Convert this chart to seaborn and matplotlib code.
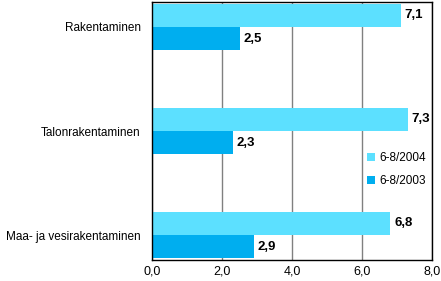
import matplotlib
matplotlib.use("Agg")
import matplotlib.pyplot as plt
import seaborn as sns
import pandas as pd

categories = ["Rakentaminen", "Talonrakentaminen", "Maa- ja vesirakentaminen"]
series_names = ["6-8/2004", "6-8/2003"]
values_2004 = [7.1, 7.3, 6.8]
values_2003 = [2.5, 2.3, 2.9]
x_ticks = [0, 2, 4, 6, 8]
x_tick_labels = ["0,0", "2,0", "4,0", "6,0", "8,0"]

df = pd.DataFrame({
    "cat": categories * 2,
    "series": [series_names[0]] * 3 + [series_names[1]] * 3,
    "value": values_2004 + values_2003,
})

sns.set_theme(style="white")
plt.rcParams["font.family"] = ["Liberation Sans", "DejaVu Sans"]
plt.rcParams["text.color"] = "black"
plt.rcParams["xtick.color"] = "black"
plt.rcParams["ytick.color"] = "black"

fig = plt.figure(figsize=(4.41, 2.81), dpi=100)
ax = fig.add_axes([152 / 441, 1 - 260 / 281, 280 / 441, 258 / 281])

palette = {"6-8/2004": "#5ce0ff", "6-8/2003": "#00aeef"}
sns.barplot(data=df, y="cat", x="value", hue="series", hue_order=series_names,
            order=categories, palette=palette, width=0.45, orient="h",
            saturation=1, ax=ax, legend=True, errorbar=None, linewidth=0)

for cont in ax.containers:
    labels = [f"{v:.1f}".replace(".", ",") for v in cont.datavalues]
    ax.bar_label(cont, labels=labels, padding=3, fontsize=9.5, fontweight="bold",
                 color="black")

ax.set_xlim(0, 8)
ax.set_ylim(2.24, -0.24)
ax.set_xticks(x_ticks)
ax.set_xticklabels(x_tick_labels, fontsize=9)
ax.tick_params(axis="y", labelsize=8.5, length=0, pad=8, labelcolor="black")
ax.tick_params(axis="x", length=0, pad=4, labelcolor="black")
ax.set_xlabel("")
ax.set_ylabel("")
ax.xaxis.grid(True, color="#808080", linewidth=1)
ax.yaxis.grid(False)
ax.set_axisbelow(True)
for s in ax.spines.values():
    s.set_visible(True)
    s.set_color("black")
    s.set_linewidth(1)

leg = ax.legend(loc="center left", bbox_to_anchor=(0.75, 0.35), frameon=False,
                fontsize=8.5, handlelength=0.7, handleheight=0.7, handletextpad=0.4,
                labelspacing=0.9, borderaxespad=0, labelcolor="black")

fig.savefig("out.png", dpi=100)
